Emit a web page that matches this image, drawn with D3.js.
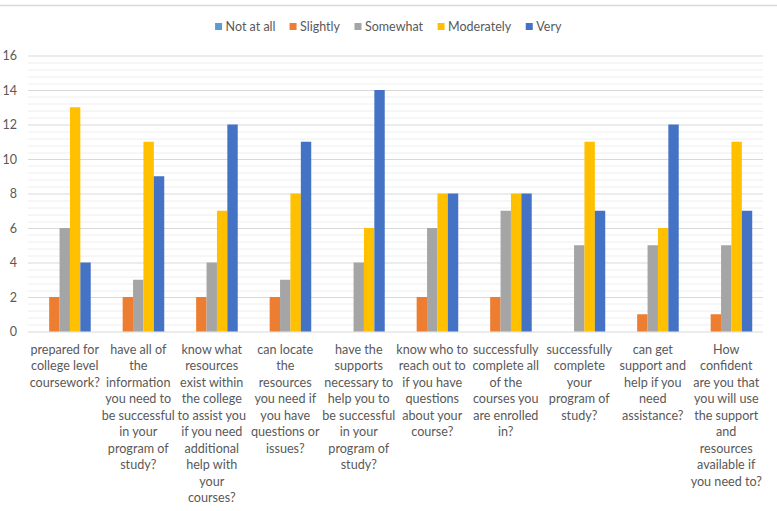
<!DOCTYPE html>
<html>
<head>
<meta charset="utf-8">
<script src="https://cdn.jsdelivr.net/npm/d3@7"></script>
<style>
  body { margin: 0; background: #fff; }
  text { font-family: Lato, "Liberation Sans", sans-serif; fill: #595959; }
</style>
</head>
<body>
<div id="chart"></div>
<script>
//// data
var series = ["Not at all", "Slightly", "Somewhat", "Moderately", "Very"];
var colors = ["#5B9BD5", "#ED7D31", "#A5A5A5", "#FFC000", "#4472C4"];

// category labels, one entry per line as they wrap in the original
var categories = [
  ["prepared for", "college level", "coursework?"],
  ["have all of", "the", "information", "you need to", "be successful", "in your", "program of", "study?"],
  ["know what", "resources", "exist within", "the college", "to assist you", "if you need", "additional", "help with", "your", "courses?"],
  ["can locate", "the", "resources", "you need if", "you have", "questions or", "issues?"],
  ["have the", "supports", "necessary to", "help you to", "be successful", "in your", "program of", "study?"],
  ["know who to", "reach out to", "if you have", "questions", "about your", "course?"],
  ["successfully", "complete all", "of the", "courses you", "are enrolled", "in?"],
  ["successfully", "complete", "your", "program of", "study?"],
  ["can get", "support and", "help if you", "need", "assistance?"],
  ["How", "confident", "are you that", "you will use", "the support", "and", "resources", "available if", "you need to?"]
];

var notAtAll   = [0, 0, 0, 0, 0, 0, 0, 0, 0, 0];
var slightly   = [2, 2, 2, 2, 0, 2, 2, 0, 1, 1];
var somewhat   = [6, 3, 4, 3, 4, 6, 7, 5, 5, 5];
var moderately = [13, 11, 7, 8, 6, 8, 8, 11, 6, 11];
var very       = [4, 9, 12, 11, 14, 8, 8, 7, 12, 7];

var yTicks = [0, 2, 4, 6, 8, 10, 12, 14, 16];

var values = [notAtAll, slightly, somewhat, moderately, very];

//// chart
var W = 777, H = 511;
var margin = {top: 55.5, right: 14, bottom: 179.5, left: 28},
    width = W - margin.left - margin.right,
    height = H - margin.top - margin.bottom;

var root = d3.select("#chart")
  .append("svg")
    .attr("width", W)
    .attr("height", H);

// top border of the chart area
root.append("line")
  .attr("x1", 0).attr("x2", W)
  .attr("y1", 5.5).attr("y2", 5.5)
  .attr("stroke", "#d9d9d9")
  .attr("stroke-width", 1.5);

var svg = root.append("g")
  .attr("transform", "translate(" + margin.left + "," + margin.top + ")");

var idx = d3.range(categories.length);

var x0 = d3.scaleBand()
  .domain(idx)
  .range([0, width])
  .paddingInner(0.293)
  .paddingOuter(0.1465);

var x1 = d3.scaleBand()
  .domain(d3.range(series.length))
  .range([0, x0.bandwidth()]);

var y = d3.scaleLinear()
  .domain([0, 16])
  .range([height, 0]);

//// gridlines
var minor = d3.range(0, 16.001, 0.4).filter(function(v) {
  return Math.abs(v / 2 - Math.round(v / 2)) > 0.01;
});

svg.selectAll(".minor")
    .data(minor)
  .enter().append("line")
    .attr("class", "minor")
    .attr("x1", 0).attr("x2", width)
    .attr("y1", function(d) { return Math.round(y(d)) + 0.5; })
    .attr("y2", function(d) { return Math.round(y(d)) + 0.5; })
    .attr("stroke", "#eeeeee");

var yAxis = svg.append("g")
  .call(d3.axisLeft(y).tickValues(yTicks).tickSize(-width).tickPadding(11));
yAxis.select(".domain").remove();
yAxis.selectAll(".tick line").attr("stroke", "#d9d9d9");
yAxis.selectAll(".tick text")
  .style("font-size", "12.5px")
  .attr("fill", "#595959");

//// bars
var groups = svg.selectAll(".grp")
    .data(idx)
  .enter().append("g")
    .attr("class", "grp")
    .attr("transform", function(i) { return "translate(" + x0(i) + ",0)"; });

groups.selectAll("rect")
    .data(function(i) { return values.map(function(v, s) { return {s: s, v: v[i]}; }); })
  .enter().append("rect")
    .attr("x", function(d) { return x1(d.s); })
    .attr("width", x1.bandwidth())
    .attr("y", function(d) { return y(d.v); })
    .attr("height", function(d) { return height - y(d.v); })
    .attr("fill", function(d) { return colors[d.s]; });

//// category labels
var lineH = 16.5;
svg.selectAll(".cat")
    .data(idx)
  .enter().append("text")
    .attr("class", "cat")
    .attr("text-anchor", "middle")
    .style("font-size", "12.6px")
    .attr("transform", function(i) {
      return "translate(" + (x0(i) + x0.bandwidth() / 2) + "," + (height + 22) + ")";
    })
    .selectAll("tspan")
    .data(function(i) { return categories[i]; })
  .enter().append("tspan")
    .attr("x", 0)
    .attr("y", function(d, k) { return k * lineH; })
    .text(function(d) { return d; });

//// legend
var legend = root.append("g")
  .attr("transform", "translate(0,26.5)");

var item = legend.selectAll(".leg")
    .data(series)
  .enter().append("g")
    .attr("class", "leg");

item.append("rect")
  .attr("width", 7)
  .attr("height", 7)
  .attr("y", -3.5)
  .attr("fill", function(d, i) { return colors[i]; });

item.append("text")
  .attr("x", 10.5)
  .attr("dy", "0.35em")
  .style("font-size", "12.5px")
  .text(function(d) { return d; });

// lay out legend entries centered
var gap = 14, pos = 0, widths = [];
item.each(function() { widths.push(this.getBBox().width); });
var total = d3.sum(widths) + gap * (widths.length - 1);
pos = (W - total) / 2;
item.attr("transform", function(d, i) {
  var t = "translate(" + pos + ",0)";
  pos += widths[i] + gap;
  return t;
});
</script>
</body>
</html>
